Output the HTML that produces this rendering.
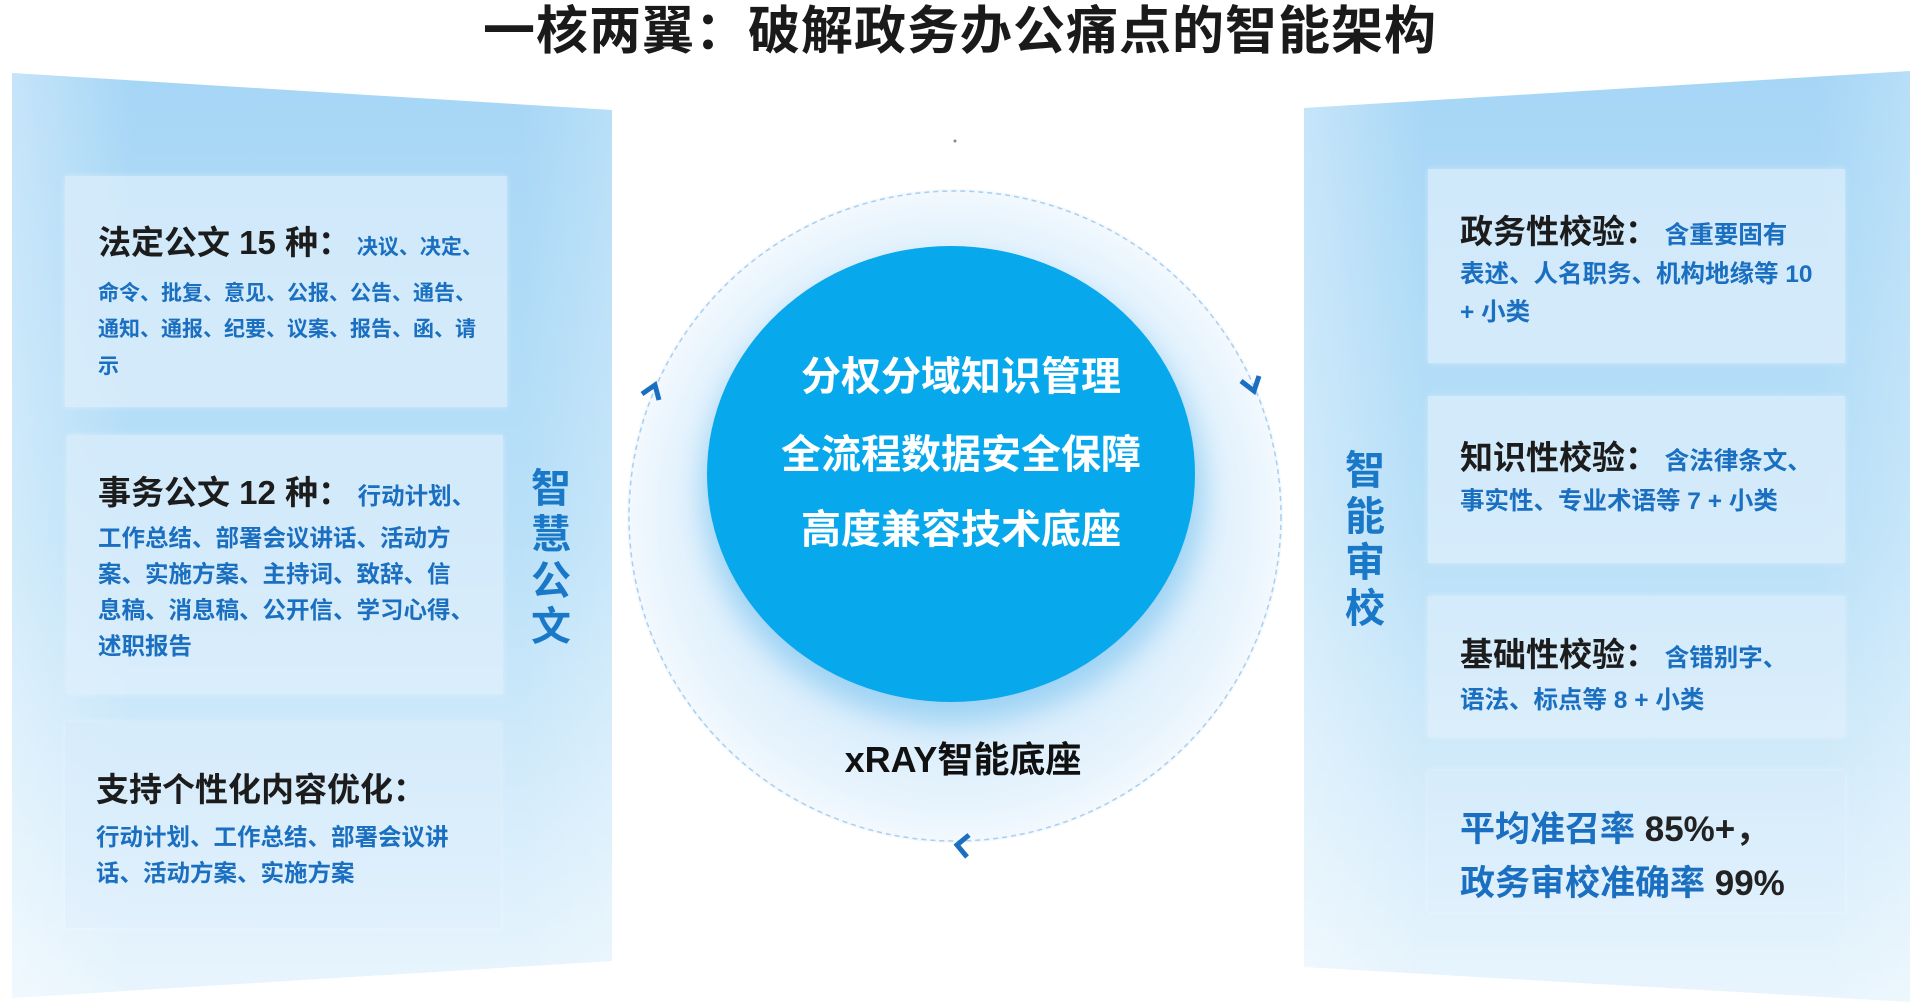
<!DOCTYPE html>
<html><head><meta charset="utf-8"><style>
*{margin:0;padding:0;box-sizing:border-box}
body{width:1920px;height:1008px;background:#fff;position:relative;overflow:hidden;font-family:"Liberation Sans","Noto Sans CJK SC",sans-serif;font-weight:bold}
.t{position:absolute;white-space:nowrap;line-height:1}
.h{color:#1c1c1c;font-size:33px}
.b{color:#1a6fc0;font-size:23.5px}
.b1{color:#1a6fc0;font-size:21px}
.br{color:#1a6fc0;font-size:24.5px}
.card{position:absolute;background:linear-gradient(180deg,rgba(215,236,251,.85),rgba(225,240,252,.7));box-shadow:0 0 6px rgba(255,255,255,.4)}
.v{position:absolute;color:#1a78c8;font-size:40px;line-height:46px;width:46px;text-align:center}
</style></head><body>
<svg width="1920" height="1008" style="position:absolute;left:0;top:0">
<defs>
<linearGradient id="gl" x1="0" y1="0" x2="0" y2="1">
<stop offset="0" stop-color="#a6d6f6"/><stop offset="0.5" stop-color="#b9e0f8"/><stop offset="1" stop-color="#e9f5fd"/></linearGradient>
<linearGradient id="glh" x1="0" y1="0" x2="1" y2="0">
<stop offset="0" stop-color="#fff" stop-opacity="0.35"/><stop offset="0.2" stop-color="#fff" stop-opacity="0"/><stop offset="0.85" stop-color="#fff" stop-opacity="0"/><stop offset="1" stop-color="#fff" stop-opacity="0.2"/></linearGradient>
<radialGradient id="go" cx="0.5" cy="0.5" r="0.5">
<stop offset="0.6" stop-color="#d5ebfb"/><stop offset="0.9" stop-color="#e8f4fd"/><stop offset="1" stop-color="#f3f9fe"/></radialGradient>
<filter id="bl"><feGaussianBlur stdDeviation="14"/></filter>
</defs>
<polygon points="12,73 612,110 612,961 12,998" fill="url(#gl)"/>
<polygon points="12,73 612,110 612,961 12,998" fill="url(#glh)"/>
<polygon points="1304,108 1910,71 1910,1002 1304,967" fill="url(#gl)"/>
<polygon points="1304,108 1910,71 1910,1002 1304,967" fill="url(#glh)"/>
<ellipse cx="955" cy="516" rx="328" ry="327" fill="url(#go)"/>
<ellipse cx="955" cy="516" rx="326" ry="325" fill="none" stroke="#a9cfee" stroke-width="1.5" stroke-dasharray="5 4"/>
<ellipse cx="953" cy="492" rx="250" ry="230" fill="#9dd3f4" filter="url(#bl)"/>
<ellipse cx="951" cy="474" rx="244" ry="228" fill="#08a8ec"/>
<circle cx="955" cy="141" r="1.5" fill="#888"/>
<polyline points="642,394 655,385 659,400" fill="none" stroke="#1a6fc0" stroke-width="5"/>
<polyline points="1241,381 1254,391 1259,376" fill="none" stroke="#1a6fc0" stroke-width="5"/>
<polyline points="969,835 957,845 967,857" fill="none" stroke="#1a6fc0" stroke-width="5"/>
</svg>

<div class="t" style="left:0;width:1920px;text-align:center;top:6px;font-size:52px;color:#1a1a1a;letter-spacing:1px">一核两翼：破解政务办公痛点的智能架构</div>

<div class="card" style="left:65px;top:176px;width:442px;height:231px"></div>
<div class="card" style="left:67px;top:435px;width:436px;height:259px"></div>
<div class="card" style="left:65px;top:722px;width:436px;height:206px"></div>

<div class="t h" style="left:98px;top:226px">法定公文 15 种：<span class="b1">&nbsp;决议、决定、</span></div>
<div class="t b1" style="left:98px;top:283px">命令、批复、意见、公报、公告、通告、</div>
<div class="t b1" style="left:98px;top:319px">通知、通报、纪要、议案、报告、函、请</div>
<div class="t b1" style="left:98px;top:356px">示</div>

<div class="t h" style="left:98px;top:476px">事务公文 12 种：<span class="b">&nbsp;行动计划、</span></div>
<div class="t b" style="left:98px;top:527px">工作总结、部署会议讲话、活动方</div>
<div class="t b" style="left:98px;top:563px">案、实施方案、主持词、致辞、信</div>
<div class="t b" style="left:98px;top:599px">息稿、消息稿、公开信、学习心得、</div>
<div class="t b" style="left:98px;top:635px">述职报告</div>

<div class="t h" style="left:96px;top:773px">支持个性化内容优化：</div>
<div class="t b" style="left:96px;top:826px">行动计划、工作总结、部署会议讲</div>
<div class="t b" style="left:96px;top:862px">话、活动方案、实施方案</div>

<div class="v" style="left:528px;top:466px">智<br>慧<br>公<br>文</div>
<div class="v" style="left:1342px;top:448px">智<br>能<br>审<br>校</div>

<div class="card" style="left:1428px;top:169px;width:417px;height:194px"></div>
<div class="card" style="left:1428px;top:396px;width:417px;height:167px"></div>
<div class="card" style="left:1428px;top:596px;width:417px;height:141px"></div>
<div class="card" style="left:1428px;top:771px;width:417px;height:141px"></div>

<div class="t h" style="left:1460px;top:215px">政务性校验：<span class="br">&nbsp;含重要固有</span></div>
<div class="t br" style="left:1460px;top:263px">表述、人名职务、机构地缘等 10</div>
<div class="t br" style="left:1460px;top:301px">+ 小类</div>

<div class="t h" style="left:1460px;top:441px">知识性校验：<span class="br">&nbsp;含法律条文、</span></div>
<div class="t br" style="left:1460px;top:490px">事实性、专业术语等 7 + 小类</div>

<div class="t h" style="left:1460px;top:638px">基础性校验：<span class="br">&nbsp;含错别字、</span></div>
<div class="t br" style="left:1460px;top:689px">语法、标点等 8 + 小类</div>

<div class="t" style="left:1460px;top:812px;font-size:35px;color:#1a6fc0">平均准召率 <span style="color:#222">85%+，</span></div>
<div class="t" style="left:1460px;top:866px;font-size:35px;color:#1a6fc0">政务审校准确率 <span style="color:#222">99%</span></div>

<div class="t" style="left:719px;width:484px;text-align:center;top:357px;font-size:40px;color:#fff">分权分域知识管理</div>
<div class="t" style="left:719px;width:484px;text-align:center;top:435px;font-size:40px;color:#fff">全流程数据安全保障</div>
<div class="t" style="left:719px;width:484px;text-align:center;top:510px;font-size:40px;color:#fff">高度兼容技术底座</div>
<div class="t" style="left:803px;width:320px;text-align:center;top:742px;font-size:36px;color:#111">xRAY智能底座</div>
</body></html>
